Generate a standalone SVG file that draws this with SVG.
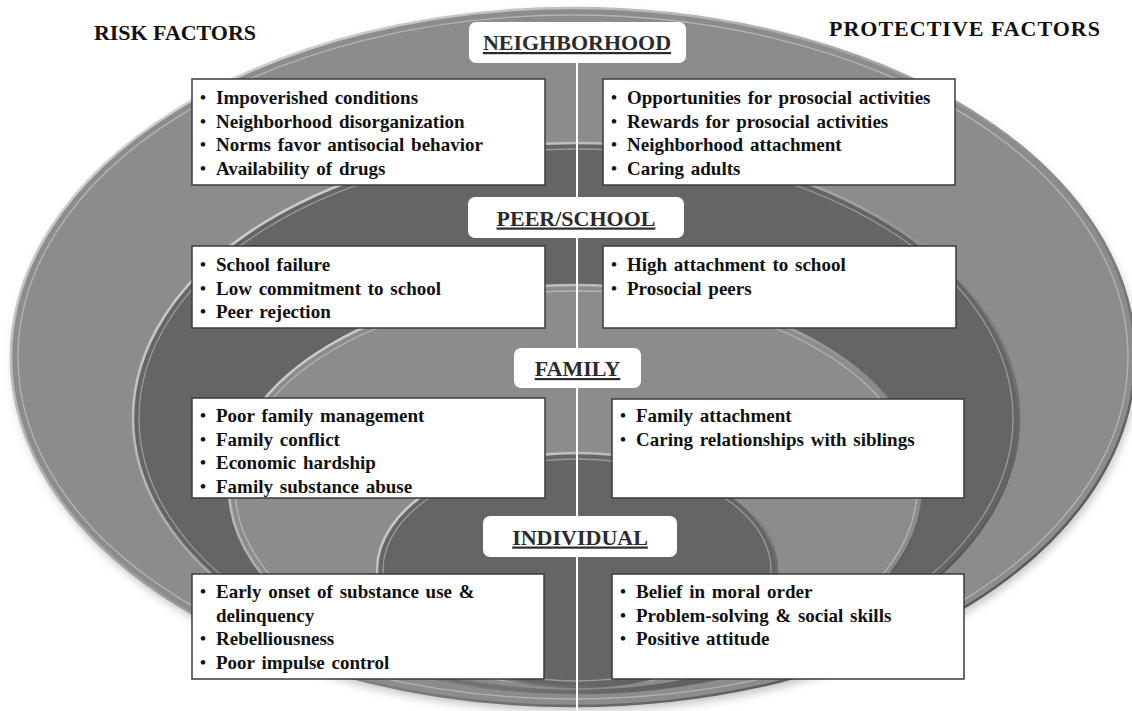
<svg xmlns="http://www.w3.org/2000/svg" width="1132" height="711" viewBox="0 0 1132 711">
  <style>
    .hdr { font-family: "Liberation Serif", "Times New Roman", serif; font-weight: bold; font-size: 22px; fill: #111; }
    .lbl { font-family: "Liberation Serif", "Times New Roman", serif; font-weight: bold; font-size: 22px; fill: #2b2b2b; text-decoration: underline; }
    .lblbox { fill: #ffffff; }
    .box { fill: #ffffff; stroke: #3a3a3a; stroke-width: 1.5; }
    .txt { font-family: "Liberation Serif", "Times New Roman", serif; font-weight: bold; font-size: 19px; fill: #111; word-spacing: 2px; }
    .bul { font-family: "Liberation Serif", "Times New Roman", serif; font-weight: bold; font-size: 17px; fill: #111; }
    .rim { fill: none; stroke: url(#rimGrad); stroke-width: 2.5; }
    .hi { fill: none; stroke: #ffffff; stroke-opacity: 0.35; stroke-width: 1.3; }
    .light { fill: #8c8c8c; }
    .dark { fill: #656565; }
  </style>
  <defs>
    <linearGradient id="rimGrad" x1="0" y1="0" x2="1" y2="1">
      <stop offset="0" stop-color="#e2e2e2"/>
      <stop offset="0.5" stop-color="#9a9a9a"/>
      <stop offset="1" stop-color="#3c3c3c"/>
    </linearGradient>
    <filter id="shadow" x="-10%" y="-10%" width="120%" height="125%">
      <feGaussianBlur stdDeviation="5"/>
    </filter>
  </defs>

  <rect width="1132" height="711" fill="#ffffff"/>

  <!-- rings -->
  <g id="rings">
    <ellipse cx="575" cy="362" rx="562" ry="349" fill="#9a9a9a" opacity="0.6" filter="url(#shadow)"/>
    <ellipse class="light" cx="573" cy="357" rx="562" ry="349"/>
    <ellipse class="rim" cx="573" cy="357" rx="562" ry="349"/>
    <ellipse class="hi" cx="573" cy="357" rx="555" ry="342"/>

    <ellipse class="dark" cx="576" cy="418" rx="443" ry="275"/>
    <ellipse class="rim" cx="576" cy="418" rx="443" ry="275"/>
    <ellipse class="hi" cx="576" cy="418" rx="437" ry="269"/>

    <ellipse class="light" cx="576" cy="488" rx="347" ry="203"/>
    <ellipse class="rim" cx="576" cy="488" rx="347" ry="203"/>
    <ellipse class="hi" cx="576" cy="488" rx="341" ry="197"/>

    <ellipse class="dark" cx="577" cy="570" rx="200" ry="117"/>
    <ellipse class="rim" cx="577" cy="570" rx="200" ry="117"/>
    <ellipse class="hi" cx="577" cy="570" rx="194" ry="111"/>
  </g>

  <!-- connectors -->
  <g id="connectors">
    <line x1="577" y1="60" x2="577" y2="711" stroke="#ffffff" stroke-width="2"/>
  </g>

  <g id="headers">
    <text class="hdr" x="94" y="40" textLength="162" lengthAdjust="spacing">RISK FACTORS</text>
    <text class="hdr" x="829" y="36" textLength="271" lengthAdjust="spacing">PROTECTIVE FACTORS</text>
  </g>

  <!-- Neighborhood -->
  <g id="neighborhood-label">
    <rect class="lblbox" x="469" y="22" width="217" height="41" rx="7"/>
    <text class="lbl" x="577" y="50" text-anchor="middle">NEIGHBORHOOD</text>
  </g>
  <g id="neighborhood-risk">
    <rect class="box" x="192" y="79" width="353" height="106"/>
    <text class="bul" x="200" y="103">•</text><text class="txt" x="216" y="104">Impoverished conditions</text>
    <text class="bul" x="200" y="126.5">•</text><text class="txt" x="216" y="127.5">Neighborhood disorganization</text>
    <text class="bul" x="200" y="150">•</text><text class="txt" x="216" y="151">Norms favor antisocial behavior</text>
    <text class="bul" x="200" y="173.5">•</text><text class="txt" x="216" y="174.5">Availability of drugs</text>
  </g>
  <g id="neighborhood-protective">
    <rect class="box" x="603" y="79" width="352" height="106"/>
    <text class="bul" x="611" y="103">•</text><text class="txt" x="627" y="104">Opportunities for prosocial activities</text>
    <text class="bul" x="611" y="126.5">•</text><text class="txt" x="627" y="127.5">Rewards for prosocial activities</text>
    <text class="bul" x="611" y="150">•</text><text class="txt" x="627" y="151">Neighborhood attachment</text>
    <text class="bul" x="611" y="173.5">•</text><text class="txt" x="627" y="174.5">Caring adults</text>
  </g>

  <!-- Peer/School -->
  <g id="peer-school-label">
    <rect class="lblbox" x="468" y="197" width="216" height="41" rx="7"/>
    <text class="lbl" x="576" y="225.5" text-anchor="middle">PEER/SCHOOL</text>
  </g>
  <g id="peer-school-risk">
    <rect class="box" x="192" y="246" width="353" height="82"/>
    <text class="bul" x="200" y="270">•</text><text class="txt" x="216" y="271">School failure</text>
    <text class="bul" x="200" y="293.5">•</text><text class="txt" x="216" y="294.5">Low commitment to school</text>
    <text class="bul" x="200" y="317">•</text><text class="txt" x="216" y="318">Peer rejection</text>
  </g>
  <g id="peer-school-protective">
    <rect class="box" x="603" y="246" width="353" height="82"/>
    <text class="bul" x="611" y="270">•</text><text class="txt" x="627" y="271">High attachment to school</text>
    <text class="bul" x="611" y="293.5">•</text><text class="txt" x="627" y="294.5">Prosocial peers</text>
  </g>

  <!-- Family -->
  <g id="family-label">
    <rect class="lblbox" x="514" y="348" width="127" height="40" rx="7"/>
    <text class="lbl" x="577.5" y="376" text-anchor="middle">FAMILY</text>
  </g>
  <g id="family-risk">
    <rect class="box" x="192" y="398" width="353" height="100"/>
    <text class="bul" x="200" y="421">•</text><text class="txt" x="216" y="422">Poor family management</text>
    <text class="bul" x="200" y="444.5">•</text><text class="txt" x="216" y="445.5">Family conflict</text>
    <text class="bul" x="200" y="468">•</text><text class="txt" x="216" y="469">Economic hardship</text>
    <text class="bul" x="200" y="491.5">•</text><text class="txt" x="216" y="492.5">Family substance abuse</text>
  </g>
  <g id="family-protective">
    <rect class="box" x="612" y="399" width="352" height="99"/>
    <text class="bul" x="620" y="421">•</text><text class="txt" x="636" y="422">Family attachment</text>
    <text class="bul" x="620" y="444.5">•</text><text class="txt" x="636" y="445.5">Caring relationships with siblings</text>
  </g>

  <!-- Individual -->
  <g id="individual-label">
    <rect class="lblbox" x="483" y="516" width="194" height="41" rx="7"/>
    <text class="lbl" x="580" y="544.5" text-anchor="middle">INDIVIDUAL</text>
  </g>
  <g id="individual-risk">
    <rect class="box" x="192" y="574" width="352" height="105"/>
    <text class="bul" x="200" y="597">•</text><text class="txt" x="216" y="598">Early onset of substance use &amp;</text>
    <text class="txt" x="216" y="621.5">delinquency</text>
    <text class="bul" x="200" y="644">•</text><text class="txt" x="216" y="645">Rebelliousness</text>
    <text class="bul" x="200" y="667.5">•</text><text class="txt" x="216" y="668.5">Poor impulse control</text>
  </g>
  <g id="individual-protective">
    <rect class="box" x="612" y="574" width="352" height="105"/>
    <text class="bul" x="620" y="597">•</text><text class="txt" x="636" y="598">Belief in moral order</text>
    <text class="bul" x="620" y="620.5">•</text><text class="txt" x="636" y="621.5">Problem-solving &amp; social skills</text>
    <text class="bul" x="620" y="644">•</text><text class="txt" x="636" y="645">Positive attitude</text>
  </g>
</svg>
